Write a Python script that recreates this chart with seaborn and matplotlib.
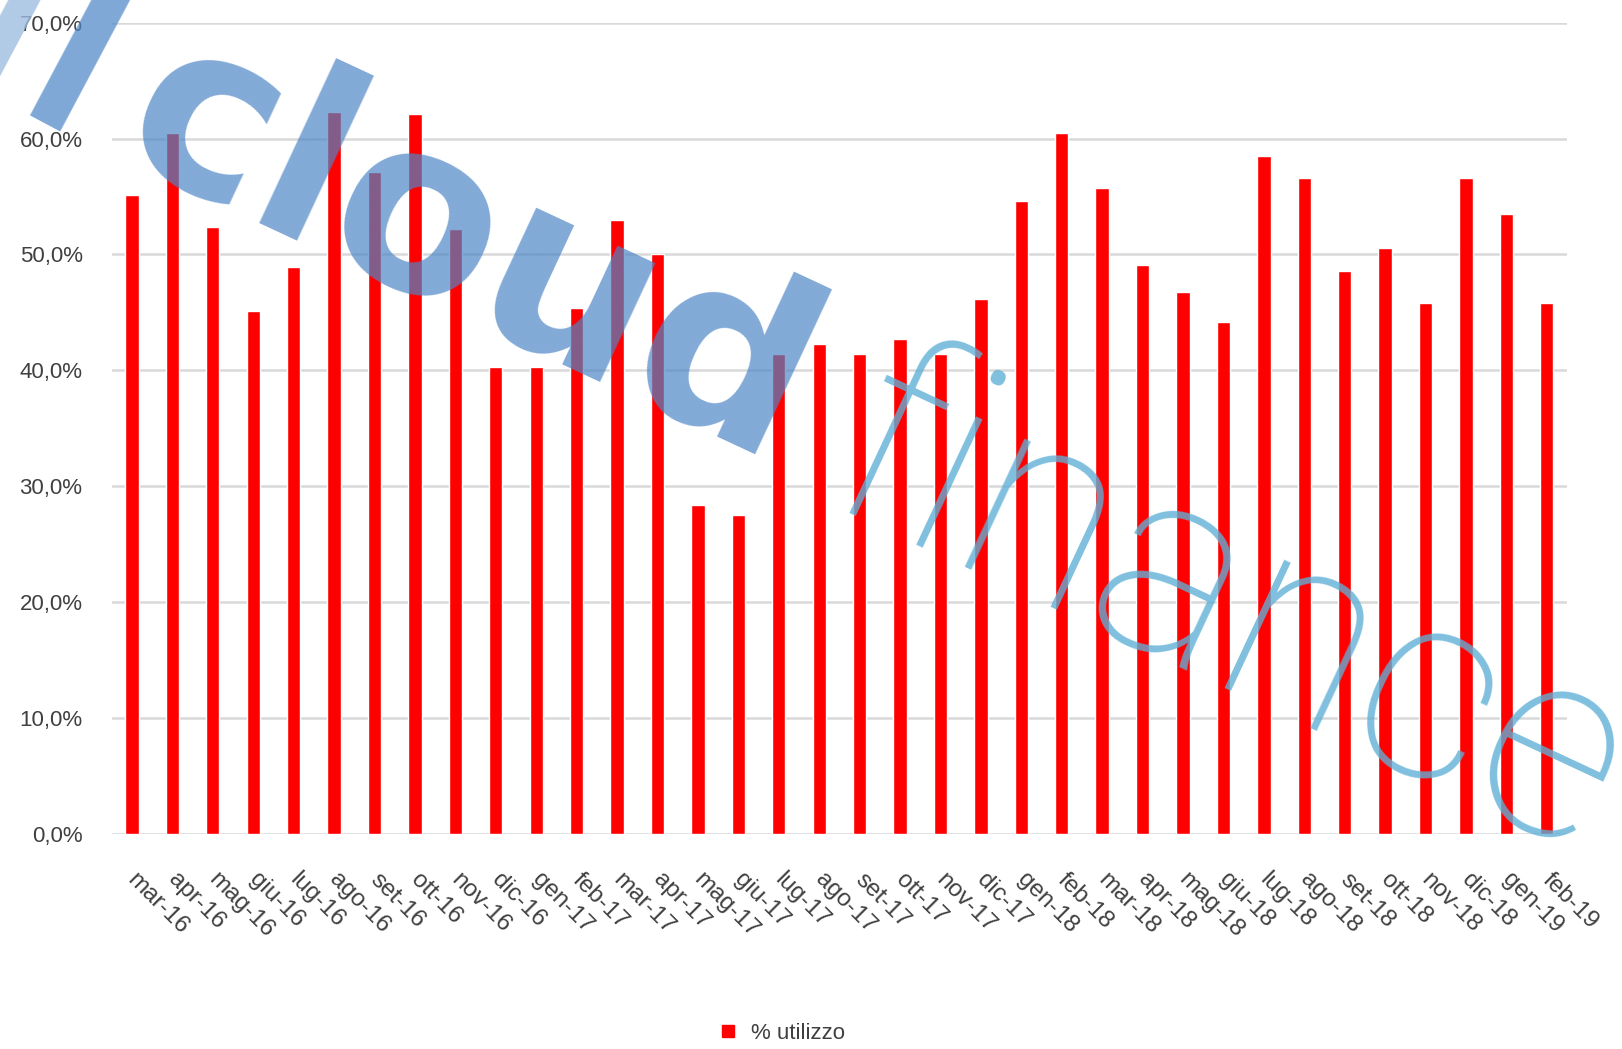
import matplotlib
matplotlib.use("Agg")
import matplotlib.pyplot as plt
import matplotlib.transforms as mtransforms
from matplotlib.lines import Line2D
import pandas as pd
import seaborn as sns

# monthly usage, mar-16 .. feb-19
mesi = ["mar-16", "apr-16", "mag-16", "giu-16", "lug-16", "ago-16", "set-16", "ott-16",
        "nov-16", "dic-16", "gen-17", "feb-17", "mar-17", "apr-17", "mag-17", "giu-17",
        "lug-17", "ago-17", "set-17", "ott-17", "nov-17", "dic-17", "gen-18", "feb-18",
        "mar-18", "apr-18", "mag-18", "giu-18", "lug-18", "ago-18", "set-18", "ott-18",
        "nov-18", "dic-18", "gen-19", "feb-19"]
utilizzo = [55.1, 60.5, 52.4, 45.1, 48.9, 62.3, 57.1, 62.1,
            52.2, 40.3, 40.3, 45.4, 53.0, 50.0, 28.4, 27.5,
            41.4, 42.3, 41.4, 42.7, 41.4, 46.2, 54.6, 60.5,
            55.7, 49.1, 46.8, 44.2, 58.5, 56.6, 48.6, 50.6,
            45.8, 56.6, 53.5, 45.8]
y_ticks = [0, 10, 20, 30, 40, 50, 60, 70]
y_labels = [f"{v:.1f}%".replace(".", ",") for v in y_ticks]
serie = "% utilizzo"

df = pd.DataFrame({"mese": mesi, "utilizzo": utilizzo})

sns.set_style("white")
plt.rcParams["font.family"] = ["Liberation Sans", "DejaVu Sans"]

fig = plt.figure(figsize=(16.22, 10.49), dpi=100)
ax = fig.add_axes([0.0689, 0.2049, 0.8972, 0.7735])

sns.barplot(data=df, x="mese", y="utilizzo", color="#ff0000", saturation=1,
            width=0.33, ax=ax, zorder=3)

ax.set_xlim(-0.5, len(mesi) - 0.5)
ax.set_ylim(0, 70)
ax.set_yticks(y_ticks)
ax.set_yticklabels(y_labels, fontsize=16, color="#404040")
ax.grid(axis="y", color="#d9d9d9", linewidth=1.8, zorder=0)
ax.set_axisbelow(True)
for s in ax.spines.values():
    s.set_visible(False)
ax.tick_params(axis="y", length=0, pad=21)
ax.tick_params(axis="x", length=0, pad=25)
ax.set_xlabel("")
ax.set_ylabel("")

ax.set_xticks(range(len(mesi)))
ax.set_xticklabels(mesi, rotation=-45, ha="left", rotation_mode="anchor",
                   fontsize=17.5, color="#404040")
shift = mtransforms.ScaledTranslation(5 / 72, 0, fig.dpi_scale_trans)
for lab in ax.get_xticklabels():
    lab.set_transform(lab.get_transform() + shift)

handle = Line2D([], [], marker="s", linestyle="none", color="#ff0000", markersize=8)
fig.legend([handle], [serie], loc="center", bbox_to_anchor=(0.478, 0.015),
           frameon=False, fontsize=16, handletextpad=0.0, labelcolor="#404040")

# watermark
fig.text(0.005, 0.97, "l", fontsize=150, fontweight="bold", color="#9dbde0",
         alpha=0.8, rotation=-28, ha="center", va="center", zorder=10)
fig.text(0.045, 0.93, "l", fontsize=180, fontweight="bold", color="#4d86c6",
         alpha=0.72, rotation=-28, ha="center", va="center", zorder=10)
fig.text(0.29, 0.758, "cloud", fontsize=172, fontweight="bold", family="DejaVu Sans",
         color="#4d86c6", alpha=0.7, rotation=-25, ha="center", va="center", zorder=10)
fig.text(0.758, 0.415, "finance", fontsize=192, fontweight="light", family="Roboto",
         color="#5fb0d6", alpha=0.8, rotation=-25, ha="center", va="center", zorder=10)

fig.savefig("out.png", dpi=100, facecolor="white")
